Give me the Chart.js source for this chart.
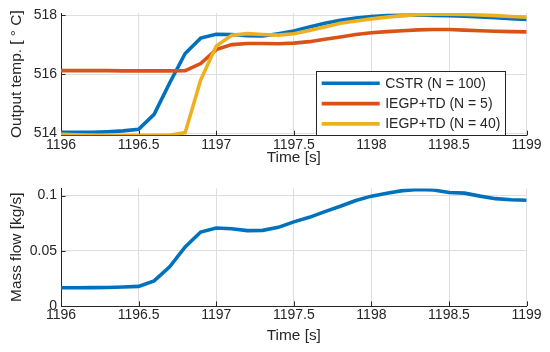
<!DOCTYPE html>
<html lang="en">
  <head>
    <meta charset="utf-8" />
    <title>Output temperature and mass flow</title>
    <script src="https://cdn.jsdelivr.net/npm/chart.js@4.4.1/dist/chart.umd.min.js"></script>
    <style>
      body {
        margin: 0;
        background: #ffffff;
      }
      .panel {
        position: absolute;
        left: 0;
        width: 550px;
        height: 176px;
      }
    </style>
  </head>
  <body>
    <div class="panel" style="top: 0"><canvas id="temp" width="550" height="176"></canvas></div>
    <div class="panel" style="top: 176px"><canvas id="flow" width="550" height="176"></canvas></div>
    <script>
      // sample times [s]
      const time = [
        1196.0, 1196.1, 1196.2, 1196.3, 1196.4, 1196.5, 1196.6, 1196.7, 1196.8, 1196.9,
        1197.0, 1197.1, 1197.2, 1197.3, 1197.4, 1197.5, 1197.6, 1197.7, 1197.8, 1197.9,
        1198.0, 1198.1, 1198.2, 1198.3, 1198.4, 1198.5, 1198.6, 1198.7, 1198.8, 1198.9,
        1199.0,
      ];

      // output temperature [deg C]
      const cstrTemp = [
        514.03, 514.03, 514.03, 514.05, 514.08, 514.13, 514.64, 515.7, 516.7, 517.22,
        517.35, 517.34, 517.3, 517.29, 517.37, 517.46, 517.6, 517.72, 517.82, 517.9,
        517.95, 517.98, 517.99, 518.0, 517.99, 517.98, 517.96, 517.94, 517.91, 517.88,
        517.85,
      ];
      const iegp5Temp = [
        516.12, 516.12, 516.12, 516.12, 516.11, 516.11, 516.11, 516.11, 516.12, 516.36,
        516.83, 517.0, 517.04, 517.04, 517.03, 517.05, 517.1, 517.18, 517.26, 517.34,
        517.4, 517.44, 517.47, 517.5, 517.51, 517.51, 517.49, 517.47, 517.45, 517.44,
        517.43,
      ];
      const iegp40Temp = [
        513.96, 513.95, 513.94, 513.93, 513.92, 513.92, 513.93, 513.93, 514.02, 515.8,
        516.95, 517.32, 517.37, 517.34, 517.32, 517.37, 517.48, 517.6, 517.72, 517.8,
        517.87, 517.93, 517.98, 518.01, 518.03, 518.03, 518.02, 518.0, 517.98, 517.95,
        517.93,
      ];

      // mass flow [kg/s]
      const massFlow = [
        0.0165, 0.0165, 0.0166, 0.0168, 0.0172, 0.0178, 0.0228, 0.0355, 0.0535, 0.067,
        0.0706, 0.07, 0.0683, 0.0685, 0.0712, 0.0762, 0.0803, 0.0855, 0.0903, 0.0955,
        0.0995, 0.1022, 0.1045, 0.1055, 0.105, 0.1028, 0.1022, 0.0995, 0.0972, 0.0962,
        0.0958,
      ];

      const seriesNames = ["CSTR (N = 100)", "IEGP+TD (N = 5)", "IEGP+TD (N = 40)"];
      const timeTicks = [1196, 1196.5, 1197, 1197.5, 1198, 1198.5, 1199];
      const tempTicks = [514, 516, 518];
      const flowTicks = [0, 0.05, 0.1];

      const BLUE = "#0072BD";
      const RED = "#D95319";
      const YELLOW = "#EDB120";
      const AXIS = "#262626";
      const GRID = "#dedede";
      const FONT = "'Liberation Sans', Arial, Helvetica, sans-serif";

      const toXY = (ys) => ys.map((y, i) => ({ x: time[i], y: y }));

      // MATLAB style ticks pointing into the plot
      const inwardTicks = {
        id: "inwardTicks",
        beforeDatasetsDraw(chart) {
          const { ctx, chartArea: a, scales } = chart;
          ctx.save();
          ctx.strokeStyle = AXIS;
          ctx.lineWidth = 1;
          ctx.beginPath();
          scales.x.ticks.forEach((t) => {
            const px = Math.round(scales.x.getPixelForValue(t.value)) + 0.5;
            ctx.moveTo(px, a.bottom);
            ctx.lineTo(px, a.bottom - 4.6);
          });
          scales.y.ticks.forEach((t) => {
            const py = Math.round(scales.y.getPixelForValue(t.value)) + 0.5;
            ctx.moveTo(a.left, py);
            ctx.lineTo(a.left + 4.6, py);
          });
          ctx.stroke();
          ctx.restore();
        },
      };

      // boxed legend in the lower right corner of the axes
      const boxLegend = {
        id: "boxLegend",
        afterDatasetsDraw(chart) {
          const { ctx, chartArea: a } = chart;
          const w = 188.6;
          const h = 64.3;
          const x0 = a.right - 22.3 - w;
          const y0 = a.bottom - h;
          ctx.save();
          ctx.fillStyle = "#ffffff";
          ctx.fillRect(x0, y0, w, h);
          ctx.strokeStyle = AXIS;
          ctx.lineWidth = 1;
          ctx.strokeRect(Math.round(x0) + 0.5, Math.round(y0) + 0.5, Math.round(w), Math.round(h));
          ctx.font = "14px " + FONT;
          ctx.textBaseline = "middle";
          ctx.textAlign = "left";
          chart.data.datasets.forEach((ds, i) => {
            const y = y0 + 12.3 + i * 20.3;
            ctx.strokeStyle = ds.borderColor;
            ctx.lineWidth = ds.borderWidth;
            ctx.beginPath();
            ctx.moveTo(x0 + 6, y);
            ctx.lineTo(x0 + 64, y);
            ctx.stroke();
            ctx.fillStyle = AXIS;
            ctx.fillText(ds.label, x0 + 69.5, y + 0.5);
          });
          ctx.restore();
        },
      };

      function xAxis(height, titleGap) {
        return {
          type: "linear",
          min: 1196,
          max: 1199,
          afterBuildTicks: (s) => {
            s.ticks = timeTicks.map((v) => ({ value: v }));
          },
          afterFit: (s) => {
            s.height = height;
          },
          grid: { color: GRID, drawTicks: false },
          border: { display: true, color: AXIS, width: 1 },
          ticks: {
            color: AXIS,
            padding: 1,
            maxRotation: 0,
            font: { family: FONT, size: 14 },
            callback: (v) => String(v),
          },
          title: {
            display: true,
            text: "Time [s]",
            color: AXIS,
            font: { family: FONT, size: 15.4 },
            padding: { top: 0, bottom: titleGap },
          },
        };
      }

      function yAxis(min, max, tickVals, label) {
        return {
          type: "linear",
          min: min,
          max: max,
          afterBuildTicks: (s) => {
            s.ticks = tickVals.map((v) => ({ value: v }));
          },
          afterFit: (s) => {
            s.width = 61;
          },
          grid: { color: GRID, drawTicks: false },
          border: { display: true, color: AXIS, width: 1 },
          ticks: {
            color: AXIS,
            padding: 4,
            font: { family: FONT, size: 14 },
            callback: (v) => String(v),
          },
          title: {
            display: true,
            text: label,
            color: AXIS,
            font: { family: FONT, size: 15.4 },
            padding: { top: 8, bottom: 0 },
          },
        };
      }

      const baseOptions = {
        responsive: false,
        animation: false,
        plugins: { legend: { display: false }, tooltip: { enabled: false } },
        elements: { point: { radius: 0 }, line: { tension: 0 } },
      };

      new Chart(document.getElementById("temp"), {
        type: "line",
        plugins: [inwardTicks, boxLegend],
        data: {
          datasets: [
            { label: seriesNames[0], data: toXY(cstrTemp), borderColor: BLUE, borderWidth: 3.6, order: 2 },
            { label: seriesNames[1], data: toXY(iegp5Temp), borderColor: RED, borderWidth: 3.6, order: 1 },
            { label: seriesNames[2], data: toXY(iegp40Temp), borderColor: YELLOW, borderWidth: 3.6, order: 0 },
          ],
        },
        options: {
          ...baseOptions,
          layout: { padding: { top: 13, right: 23.4, left: 0, bottom: 0 } },
          scales: {
            x: xAxis(40.7, 9),
            y: yAxis(513.93, 518.07, tempTicks, "Output temp. [ ° C]"),
          },
        },
      });

      new Chart(document.getElementById("flow"), {
        type: "line",
        plugins: [inwardTicks],
        data: {
          datasets: [{ label: "Mass flow", data: toXY(massFlow), borderColor: BLUE, borderWidth: 3.6 }],
        },
        options: {
          ...baseOptions,
          layout: { padding: { top: 7.5, right: 23.4, left: 0, bottom: 0 } },
          scales: {
            x: xAxis(46, 7),
            y: yAxis(0, 0.1065, flowTicks, "Mass flow [kg/s]"),
          },
        },
      });
    </script>
  </body>
</html>
